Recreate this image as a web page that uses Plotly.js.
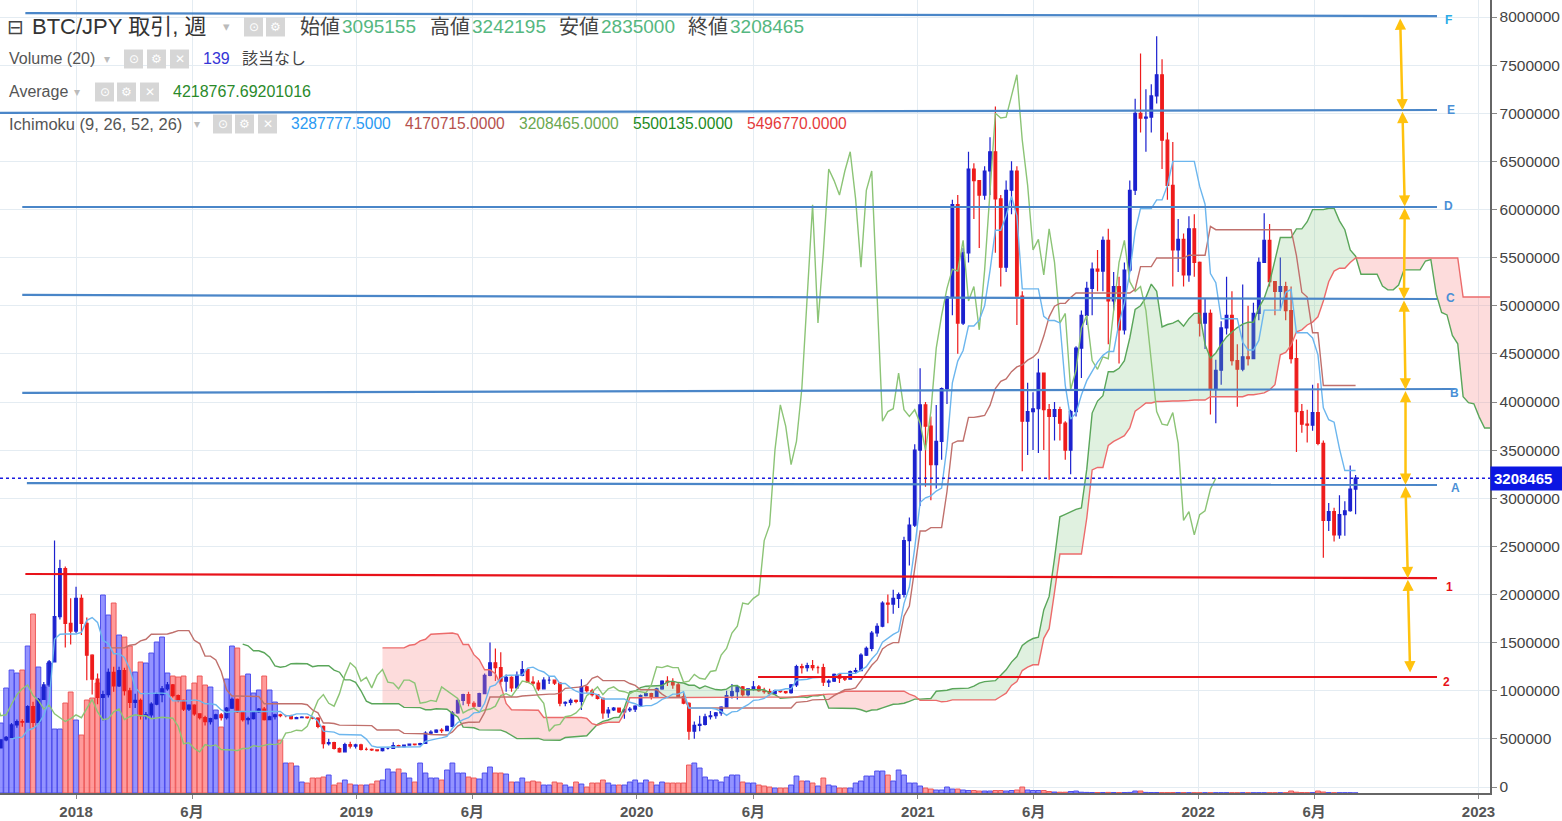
<!DOCTYPE html>
<html><head><meta charset="utf-8">
<script src="https://cdn.plot.ly/plotly-3.0.1.min.js"></script>
<style>html,body{margin:0;padding:0;background:#fff;}#chart{width:1562px;height:821px;}</style>
</head><body><div id="chart"></div>
<script>
// ---------- DATA (BTC/JPY weekly, values in thousand JPY) ----------
const firstWeek = '2017-08-14';
const firstOpenK = 447;
const closeK = [
450,478,505,455,410,405,490,515,645,680,
675,835,670,910,1060,1300,1770,2270,1700,1620,
1960,1700,1370,1120,930,960,1190,1050,1210,1000,
880,900,740,750,860,960,1020,1060,950,900,
810,850,760,720,680,710,750,720,820,910,
780,700,710,780,810,700,730,750,740,740,
710,720,725,720,715,630,450,460,400,365,
440,425,437,390,390,385,378,400,400,430,
420,435,445,440,452,560,570,590,585,630,
770,900,960,870,840,970,1160,1290,1240,1100,
1140,1030,1160,1220,1090,1080,1020,1110,1110,1080,
870,880,900,890,1040,1000,960,920,770,800,
820,780,800,810,840,950,970,940,1020,1100,
1090,1060,940,870,580,640,650,730,740,770,
830,950,990,1040,960,1020,1040,1000,990,970,
1000,990,980,1060,1250,1240,1260,1240,1240,1090,
1100,1170,1130,1120,1200,1210,1370,1440,1600,1670,
1910,1900,1960,2000,2560,2720,3500,3970,3750,3350,
3590,4140,5090,6050,4820,5550,6420,6300,6150,6400,
6600,6110,5400,6200,6400,5100,3800,3900,3930,4300,
3920,3850,3920,3780,3500,3900,4560,4900,5180,5380,
5360,5680,5050,5200,4750,5370,6200,7000,6950,6960,
7180,7400,6720,6250,5580,5690,5320,5800,5450,4820,
4920,4130,4330,4770,4900,4430,4340,4470,4450,4920,
5450,5680,5250,5150,5200,4950,4450,3900,3770,3760,
3890,3570,2770,2860,2620,2830,2870,3095.155,3208.465
];
const highK = [
495,490,545,515,470,445,495,530,665,700,
705,850,885,925,1090,1320,2560,2360,2290,1960,
2080,2000,1760,1380,1180,1000,1230,1250,1250,1240,
1030,970,920,780,880,980,1050,1090,1070,960,
910,860,860,760,740,720,760,770,830,930,
920,790,730,790,820,830,740,760,760,750,
750,730,735,730,725,725,640,500,470,410,
460,470,450,450,410,400,390,405,410,465,
440,440,450,450,460,580,590,600,610,640,
790,910,970,990,890,980,1180,1500,1440,1400,
1170,1150,1200,1310,1220,1150,1110,1140,1150,1110,
1090,890,920,910,1120,1050,1020,960,930,830,
830,820,810,830,850,960,980,980,1030,1110,
1150,1130,1080,980,880,680,740,760,790,780,
840,1000,1070,1050,1050,1020,1100,1060,1030,1020,
1010,1010,990,1070,1270,1280,1290,1320,1260,1280,
1120,1180,1180,1150,1210,1240,1390,1460,1620,1700,
1930,2000,2050,2020,2600,2800,3560,4350,4000,3850,
3970,4150,5100,6100,6150,5600,6600,6480,6300,6450,
6750,7070,6150,6300,6500,6450,5150,4200,4100,4450,
4300,3980,4000,3950,3800,3920,4580,4950,5250,5450,
5580,5720,5800,5350,5300,5450,6300,7150,7620,7250,
7300,7800,7560,6800,6700,5900,5750,5930,5950,5460,
5070,4960,4440,4840,5300,5150,4600,5220,5000,5030,
5500,5960,5850,5250,5500,5250,5200,4650,3980,3920,
4180,4194.125,3600,2950,2900,3030,2970,3340,3242.195
];
const lowK = [
425,440,470,430,330,385,400,475,510,615,
625,670,620,650,905,1040,1300,1740,1450,1480,
1600,1580,1110,960,860,690,930,990,1040,950,
820,820,700,700,720,850,880,1000,930,880,
790,790,740,700,640,650,700,690,700,810,
770,680,650,700,770,690,700,700,725,725,
700,705,715,710,705,610,400,430,390,355,
360,400,400,380,380,375,370,370,390,400,
410,410,430,430,430,450,550,560,560,580,
620,760,850,840,820,830,970,1150,1100,1060,
990,990,1020,1150,1080,1050,1000,1020,1070,1060,
840,840,850,870,800,980,940,910,710,720,
790,770,710,780,780,830,940,910,930,1010,
1050,1020,930,860,490,500,580,640,700,710,
740,820,920,910,940,940,1000,990,970,950,
960,980,970,970,1040,1180,1200,1210,1180,1050,
1040,1090,1080,1100,1120,1180,1210,1360,1410,1560,
1660,1700,1800,1860,1970,2300,2700,2920,3120,2980,
3100,3400,3980,4900,4500,4800,5450,5900,5600,6100,
6150,5550,5200,5350,5950,4800,3280,3450,3500,3470,
3500,3193.5,3600,3600,3400,3250,3850,4250,4800,4900,
5150,5150,4600,4950,4400,4700,5350,6150,6800,6600,
6800,7100,6420,6100,5200,5350,5200,5250,5300,4680,
4550,3870,3780,4180,4700,4380,3950,4320,4380,4450,
4850,5450,5200,4900,4950,4850,4400,3480,3680,3580,
3700,3550,2381.43,2660,2550,2580,2610,2860,2835
];
const volumeBTC = [
60000,65000,70000,75000,90000,70000,70000,105000,123000,120000,
123000,147000,179000,126000,106000,130000,64000,64000,90000,101000,
73000,58000,93000,95000,110000,198000,178000,190000,158000,156000,
147000,121000,131000,130000,140000,151000,156000,120000,117000,116000,
117000,103000,110000,117000,108000,106000,83000,66000,114000,147000,
145000,117000,119000,100000,103000,117000,103000,91000,53000,30000,
30000,27000,11000,10000,15000,15000,16000,18000,8000,10000,
13000,9000,8000,8000,8000,9000,12000,13000,24000,21000,
24000,20000,15000,11000,30000,20000,15000,15000,13000,23000,
30000,20000,20000,16000,15000,14000,20000,26000,20000,20000,
19000,11000,11000,15000,11000,12000,11000,8000,8000,11000,
10000,8000,6000,11000,9000,6000,10000,10000,13000,10000,
8000,8000,8000,11000,13000,10000,13000,11000,8000,11000,
10000,10000,10000,10000,28000,30000,25000,16000,13000,13000,
11000,16000,18000,18000,11000,10000,10000,8000,7000,6000,
5000,5000,5000,8000,17000,12000,12000,10000,7000,15000,
8000,7000,5000,5000,5000,10000,12000,17000,17000,22000,
22000,18000,12000,23000,18000,10000,10000,7000,5000,4000,
3000,3000,6000,4000,4000,3000,2500,2500,2000,2000,
2000,2500,2500,2000,2500,3000,6000,3000,2500,2500,
2500,1500,1000,800,800,1500,2000,800,600,500,
500,500,600,500,400,500,600,2000,2000,600,
500,500,400,400,500,400,400,300,300,300,
300,300,300,300,300,300,300,300,300,300,
300,300,300,300,300,300,2000,800,500,400,
400,2000,1000,400,300,300,300,300,139
];
const xTickDates = ['2018-01-01','2018-06-01','2019-01-01','2019-06-01','2020-01-01','2020-06-01','2021-01-01','2021-06-01','2022-01-01','2022-06-01','2023-01-01'];
const xTickText = ['2018','6月','2019','6月','2020','6月','2021','6月','2022','6月','2023'];
const yTickVals = [0,500000,1000000,1500000,2000000,2500000,3000000,3500000,4000000,4500000,5000000,5500000,6000000,6500000,7000000,7500000,8000000];
const lastPrice = 3208465;

// drawn horizontal levels (user drawings)
const levelNames = ['F','E','D','C','B','A','1','2'];
const levelStartDate = ['2017-10-27','2017-09-24','2017-10-23','2017-10-23','2017-10-23','2017-10-29','2017-10-27','2020-06-07'];
const levelEndDate = ['2022-11-08','2022-11-08','2022-11-08','2022-11-08','2022-12-01','2022-11-08','2022-11-08','2022-11-08'];
const levelStartPrice = [8040000,7003000,6026000,5112000,4094000,3158000,2213000,1143000];
const levelEndPrice = [8010000,7034000,6026000,5070000,4135000,3138000,2171000,1143000];
// orange double-arrow path vertices
const arrowDates = ['2022-09-21','2022-09-24','2022-09-27','2022-09-26','2022-09-28','2022-09-28','2022-10-01','2022-10-04'];
const arrowPrices = [8000000,7030000,6030000,5070000,4130000,3140000,2170000,1190000];

// ---------- BUILD ----------
const DAY = 86400000, SHIFT = 26;
const t0 = Date.parse(firstWeek + 'T00:00:00Z');
const n = closeK.length;
const dates = [];
for (let i = 0; i < n + SHIFT; i++) dates.push(new Date(t0 + i * 7 * DAY).toISOString().slice(0, 10));
const close = closeK.map(v => v * 1000);
const high = highK.map(v => v * 1000);
const low = lowK.map(v => v * 1000);
const open = close.map((c, i) => i === 0 ? firstOpenK * 1000 : close[i - 1]);
const barX = dates.slice(0, n);

function mid(p, i) {
  if (i < p - 1) return null;
  let hh = -Infinity, ll = Infinity;
  for (let k = i - p + 1; k <= i; k++) { if (high[k] > hh) hh = high[k]; if (low[k] < ll) ll = low[k]; }
  return (hh + ll) / 2;
}
const conv = close.map((_, i) => mid(9, i));
const base = close.map((_, i) => mid(26, i));
const spanX = [], spanA = [], spanB = [];
for (let i = 0; i < n; i++) {
  spanX.push(dates[i + SHIFT]);
  spanA.push(conv[i] != null && base[i] != null ? (conv[i] + base[i]) / 2 : null);
  spanB.push(mid(52, i));
}
const lagX = [], lagY = [];
for (let i = SHIFT; i < n; i++) { lagX.push(dates[i - SHIFT]); lagY.push(close[i]); }

const cIdx = []; for (let i = 0; i < n; i++) if (spanA[i] != null && spanB[i] != null) cIdx.push(i);
const cX = cIdx.map(i => spanX[i]);
const cA = cIdx.map(i => spanA[i]);
const cB = cIdx.map(i => spanB[i]);
const cMax = cIdx.map(i => Math.max(spanA[i], spanB[i]));

const volColors = close.map((c, i) => c >= open[i] ? 'rgba(105,105,255,0.72)' : 'rgba(255,115,115,0.72)');
const volLine = close.map((c, i) => c >= open[i] ? 'rgba(70,70,235,0.9)' : 'rgba(235,80,80,0.9)');

const noHover = {hoverinfo: 'skip'};
const traces = [
  Object.assign({type: 'bar', x: barX, y: volumeBTC, yaxis: 'y', marker: {color: volColors, line: {color: volLine, width: 1}}}, noHover),
  Object.assign({type: 'scatter', mode: 'lines', x: cX, y: cB, yaxis: 'y2', line: {width: 0, color: 'rgba(0,0,0,0)'}}, noHover),
  Object.assign({type: 'scatter', mode: 'lines', x: cX, y: cMax, yaxis: 'y2', fill: 'tonexty', fillcolor: 'rgba(130,200,130,0.25)', line: {width: 0, color: 'rgba(0,0,0,0)'}}, noHover),
  Object.assign({type: 'scatter', mode: 'lines', x: cX, y: cA, yaxis: 'y2', line: {width: 0, color: 'rgba(0,0,0,0)'}}, noHover),
  Object.assign({type: 'scatter', mode: 'lines', x: cX, y: cMax, yaxis: 'y2', fill: 'tonexty', fillcolor: 'rgba(250,140,140,0.3)', line: {width: 0, color: 'rgba(0,0,0,0)'}}, noHover),
  Object.assign({type: 'scatter', mode: 'lines', x: spanX, y: spanA, yaxis: 'y2', line: {width: 1.4, color: '#5aa65a'}}, noHover),
  Object.assign({type: 'scatter', mode: 'lines', x: spanX, y: spanB, yaxis: 'y2', line: {width: 1.4, color: '#ec6b6b'}}, noHover),
  Object.assign({type: 'scatter', mode: 'lines', x: lagX, y: lagY, yaxis: 'y2', line: {width: 1.4, color: '#8cc476'}}, noHover),
  Object.assign({type: 'scatter', mode: 'lines', x: barX, y: base, yaxis: 'y2', line: {width: 1.4, color: '#c0706c'}}, noHover),
  Object.assign({type: 'scatter', mode: 'lines', x: barX, y: conv, yaxis: 'y2', line: {width: 1.4, color: '#6cb6ee'}}, noHover),
  Object.assign({type: 'candlestick', x: barX, open: open, high: high, low: low, close: close, yaxis: 'y2', whiskerwidth: 0,
    increasing: {line: {color: '#1c22cf', width: 1.2}, fillcolor: '#1c22cf'},
    decreasing: {line: {color: '#ee1c1c', width: 1.2}, fillcolor: '#ee1c1c'}}, noHover)
];

// ---------- ANNOTATIONS / SHAPES ----------
const PW = 1490, PH = 793;
const SANS = '"Liberation Sans", Arial, "Noto Sans CJK JP", sans-serif';
const annotations = [];
const shapes = [];
function txt(x, y, text, size, color, family) {
  annotations.push({xref: 'paper', yref: 'paper', x: x / PW, y: 1 - y / PH, xanchor: 'left', yanchor: 'middle',
    text: text, showarrow: false, font: {size: size, color: color, family: family || SANS}});
}
function icon(x, y, glyph) {
  shapes.push({type: 'rect', xref: 'paper', yref: 'paper', x0: x / PW, x1: (x + 19) / PW, y0: 1 - (y + 9.5) / PH, y1: 1 - (y - 9.5) / PH,
    fillcolor: '#d6d6d6', line: {width: 0}, layer: 'above'});
  annotations.push({xref: 'paper', yref: 'paper', x: (x + 9.5) / PW, y: 1 - y / PH, xanchor: 'center', yanchor: 'middle',
    text: glyph, showarrow: false, font: {size: 12, color: '#ffffff', family: 'DejaVu Sans'}});
}
// row 1
txt(5, 27, '⊟', 20, '#444', 'DejaVu Sans');
txt(30, 27, 'BTC/JPY 取引, 週', 22, '#333');
txt(221, 27, '▾', 13, '#bbbbbb', 'DejaVu Sans');
icon(244, 27, '⊙'); icon(266, 27, '⚙');
const ohlcLabels = ['始値', '高値', '安値', '終値'];
const ohlcValues = ['3095155', '3242195', '2835000', '3208465'];
const ohlcLabelX = [298, 428, 557, 686];
for (let k = 0; k < 4; k++) {
  txt(ohlcLabelX[k], 27, ohlcLabels[k], 20, '#444');
  txt(ohlcLabelX[k] + 42, 27, ohlcValues[k], 19, '#55b780');
}
// row 2
txt(7, 59, 'Volume (20)', 16, '#555');
txt(102, 59, '▾', 12, '#bbbbbb', 'DejaVu Sans');
icon(124, 59, '⊙'); icon(147, 59, '⚙'); icon(170, 59, '✕');
txt(201, 59, '139', 16, '#3535d6');
txt(240, 59, '該当なし', 16, '#444');
// row 3
txt(7, 92, 'Average', 16, '#555');
txt(72, 92, '▾', 12, '#bbbbbb', 'DejaVu Sans');
icon(95, 92, '⊙'); icon(117, 92, '⚙'); icon(140, 92, '✕');
txt(171, 92, '4218767.69201016', 16, '#2a8a2a');
// row 4
txt(7, 124, 'Ichimoku (9, 26, 52, 26)', 16.5, '#555');
txt(192, 124, '▾', 12, '#bbbbbb', 'DejaVu Sans');
icon(213, 124, '⊙'); icon(235, 124, '⚙'); icon(258, 124, '✕');
const ichiVals = ['3287777.5000', '4170715.0000', '3208465.0000', '5500135.0000', '5496770.0000'];
const ichiColors = ['#2b9af3', '#b5514d', '#6aa84f', '#238b23', '#e53b3b'];
const ichiX = [289, 403, 517, 631, 745];
for (let k = 0; k < 5; k++) txt(ichiX[k], 124, ichiVals[k], 15.6, ichiColors[k]);

// level lines
for (let k = 0; k < levelNames.length; k++) {
  const red = k >= 6;
  shapes.push({type: 'line', xref: 'x', yref: 'y2', x0: levelStartDate[k], x1: levelEndDate[k],
    y0: levelStartPrice[k], y1: levelEndPrice[k], line: {color: red ? '#e8121a' : '#4a86c8', width: 2.2}, layer: 'above'});
}
const levelLabelPx = [[1443, 20], [1445, 110], [1442, 206], [1444, 298], [1448, 393], [1449, 488], [1444, 587], [1441, 682]];
for (let k = 0; k < levelNames.length; k++) {
  const red = k >= 6;
  txt(levelLabelPx[k][0], levelLabelPx[k][1], '<b>' + levelNames[k] + '</b>', 12, red ? '#e8121a' : (k === 0 ? '#2aaae6' : '#4a8fd6'), SANS);
}
// orange arrows
for (let k = 0; k < arrowDates.length - 1; k++) {
  annotations.push({xref: 'x', yref: 'y2', x: arrowDates[k + 1], y: arrowPrices[k + 1], axref: 'x', ayref: 'y2',
    ax: arrowDates[k], ay: arrowPrices[k], text: '', showarrow: true, arrowside: 'end+start', arrowhead: 2, startarrowhead: 2,
    arrowsize: 0.9, startarrowsize: 0.9, arrowwidth: 2.5, arrowcolor: '#ffc20e', standoff: 0, startstandoff: 0});
}
// last price line and tag
shapes.push({type: 'line', xref: 'paper', yref: 'y2', x0: 0, x1: 1, y0: lastPrice, y1: lastPrice,
  line: {color: '#1a1ae0', width: 1.5, dash: 'dot'}, layer: 'above'});
annotations.push({xref: 'paper', yref: 'y2', x: 1, y: lastPrice, xanchor: 'left', yanchor: 'middle', text: '<b>' + lastPrice + '</b>',
  showarrow: false, font: {size: 15, color: '#ffffff', family: SANS}, bgcolor: '#0b16e2', borderpad: 3, width: 66, align: 'left'});

const layout = {
  width: 1562, height: 821, margin: {l: 0, r: 72, t: 0, b: 28},
  paper_bgcolor: '#ffffff', plot_bgcolor: '#ffffff', showlegend: false, bargap: 0.1, dragmode: false,
  xaxis: {type: 'date', range: ['2017-09-24', '2023-01-16'], tickmode: 'array', tickvals: xTickDates,
    ticktext: xTickText.map(t => '<b>' + t + '</b>'), showgrid: true, gridcolor: '#e4ecf2', gridwidth: 1,
    showline: true, linecolor: '#666', linewidth: 2, ticks: 'outside', ticklen: 4, tickcolor: '#888',
    tickfont: {family: SANS, size: 15, color: '#555'}, rangeslider: {visible: false}, zeroline: false, fixedrange: true},
  yaxis: {range: [0, PH * 1000], visible: false, showgrid: false, fixedrange: true},
  yaxis2: {overlaying: 'y', side: 'right', range: [-62338, 8176623], tickmode: 'array', tickvals: yTickVals, tickformat: 'd',
    showgrid: true, gridcolor: '#e4ecf2', gridwidth: 1, showline: true, linecolor: '#666', linewidth: 1.5,
    ticks: 'outside', ticklen: 5, tickcolor: '#888', tickfont: {family: SANS, size: 15.5, color: '#444'}, zeroline: false, fixedrange: true},
  annotations: annotations, shapes: shapes
};
Plotly.newPlot('chart', traces, layout, {displayModeBar: false, staticPlot: true});
</script>
</body></html>
